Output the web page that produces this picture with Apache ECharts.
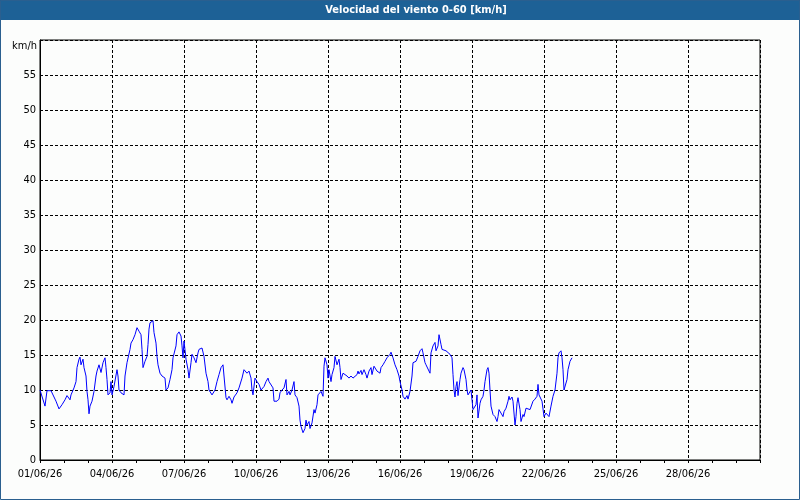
<!DOCTYPE html>
<html>
<head>
<meta charset="utf-8">
<script src="https://cdn.jsdelivr.net/npm/echarts@6/dist/echarts.min.js"></script>
<style>
  html, body { margin: 0; padding: 0; background: #fcfdfc; }
  #chart { width: 800px; height: 500px; }
</style>
</head>
<body>
<div id="chart"></div>
<script>
// hora desde 01/06/26 00:00 (lecturas)
const hours = [0,5,7,11,15,16,19,22,25,27,30,31,34,36,37,39,40,41,43,44,46,47,48,49,50,52,54,56,57,59,61,63,65,66,67,68,70,71,72,74,77,78,79,81,84,85,87,90,91,93,95,97,99,101,102,103,105,107,108,109,110,113,114,116,117,118,120,122,123,125,126,128,130,132,133,136,137,139,141,142,143,144,145,146,148,149,151,152,154,156,158,159,161,162,164,166,168,169,172,174,175,177,179,181,183,184,186,187,189,191,192,194,197,199,202,204,207,209,211,212,213,215,217,219,221,224,226,228,229,231,233,234,237,239,240,242,244,246,247,249,250,252,254,255,257,259,260,261,263,265,266,267,269,270,272,274,275,277,278,280,281,283,284,285,287,288,289,291,292,294,295,297,299,300,301,303,305,307,309,311,313,315,317,318,319,321,322,324,326,327,329,331,332,334,336,337,340,341,343,345,347,350,351,353,355,357,359,360,362,363,365,367,368,370,372,373,376,378,380,382,383,385,386,388,390,391,393,395,396,398,399,401,402,404,406,408,410,412,413,414,415,416,417,418,420,421,423,424,426,427,428,429,431,433,434,436,437,438,440,441,443,444,445,447,448,449,450,451,453,455,456,457,458,459,461,463,464,466,468,469,470,472,473,475,476,477,478,480,481,483,484,486,488,490,492,493,495,497,498,499,501,502,503,504,506,508,509,511,513,514,515,517,518,519,521,522,523,524,526,527,528,530,532];
// velocidad del viento [km/h]
const speeds = [10.0,7.7,9.9,9.9,8.7,8.4,7.3,7.9,8.6,9.2,8.6,9.3,10.3,11.2,13.2,14.4,14.7,13.6,14.4,13.2,12.0,9.8,8.6,6.6,7.7,8.4,9.8,12.0,12.7,13.6,12.5,13.9,14.6,13.2,11.5,9.3,9.6,11.2,9.3,10.5,12.9,12.0,10.0,9.6,9.3,12.0,13.9,15.8,16.7,17.2,17.9,18.9,18.4,17.9,15.8,13.2,14.1,14.8,16.5,18.7,19.6,19.9,18.2,16.7,14.8,13.6,12.4,12.0,12.2,11.7,10.0,10.3,11.5,12.9,14.6,16.3,17.9,18.3,17.7,16.3,14.6,17.0,17.2,14.4,12.9,11.7,13.9,15.1,14.6,13.9,15.3,15.8,15.6,16.0,14.8,12.4,11.2,10.0,9.3,9.1,10.0,11.2,12.2,13.2,13.6,12.0,8.9,8.6,9.1,8.6,8.1,9.0,9.6,10.3,11.7,12.9,12.4,12.7,11.7,10.0,9.3,11.7,11.2,10.8,10.0,10.5,11.2,11.7,11.2,11.0,10.3,8.4,8.4,8.7,9.6,10.0,10.3,11.5,9.3,9.8,9.3,10.0,11.2,9.3,8.9,7.7,5.7,4.8,3.9,4.5,5.7,5.0,5.5,4.5,5.3,7.2,6.7,7.9,9.3,9.3,9.8,9.1,13.4,14.6,13.6,11.7,12.9,11.2,12.2,13.2,14.8,13.6,14.4,13.2,11.5,12.4,12.2,12.0,11.7,12.0,11.7,11.7,12.2,12.7,12.3,12.8,12.2,12.9,12.2,11.7,12.7,13.2,12.2,13.4,13.2,12.7,12.4,13.2,13.6,14.1,14.6,15.1,15.4,14.6,13.6,12.9,12.0,11.2,10.0,9.1,8.7,9.2,8.7,9.8,12.0,13.9,14.1,14.8,15.6,15.9,15.3,13.9,13.6,13.6,12.4,15.3,16.3,16.8,15.6,16.3,17.9,16.5,15.8,15.8,15.6,15.7,15.1,14.6,12.2,10.0,9.0,10.5,11.2,9.2,11.5,12.4,13.2,12.9,11.5,10.0,9.3,9.1,10.0,7.2,7.2,7.9,9.3,6.0,8.1,8.6,9.1,10.0,11.2,12.9,13.2,12.4,10.0,7.7,6.5,6.2,6.0,5.5,6.2,7.2,7.4,6.2,6.9,7.4,8.4,9.1,8.6,9.0,8.4,5.0,6.2,8.1,8.9,7.2,5.5,6.5,6.2,7.4,7.2,7.2,7.4,8.4,8.7,9.1,10.8,9.3,9.1,8.4,8.6,6.2,6.7,6.8,6.2,7.7,9.1,9.3,10.0,12.4,14.6,15.3,15.6,14.6,12.9,10.0,9.8,11.5,12.9,14.1,14.6];
// etiquetas del eje x, cada 3 días
const dateLabels = ['01/06/26','04/06/26','07/06/26','10/06/26','13/06/26','16/06/26','19/06/26','22/06/26','25/06/26','28/06/26'];
const yLabels = ['0','5','10','15','20','25','30','35','40','45','50','55'];

const font = "'DejaVu Sans Condensed', 'DejaVu Sans', sans-serif";
const dashed = { color: '#000', width: 1, type: [3, 2] };

const option = {
  animation: false,
  backgroundColor: '#fcfdfc',
  graphic: [
    { type: 'rect', shape: { x: 0, y: 0, width: 800, height: 20 }, style: { fill: '#1d6196' }, z: 10 },
    { type: 'rect', shape: { x: 0.5, y: 0.5, width: 799, height: 499 }, style: { fill: 'none', stroke: '#2a5f8f', lineWidth: 1 }, z: 10 },
    { type: 'text', x: 416, y: 10, z: 11, style: { text: 'Velocidad del viento 0-60 [km/h]', fill: '#fff', font: 'bold 11px ' + font, align: 'center', verticalAlign: 'middle' } },
    { type: 'text', x: 37, y: 46, z: 11, style: { text: 'km/h', fill: '#000', font: '11px ' + font, align: 'right', verticalAlign: 'middle' } }
  ],
  grid: { left: 40, right: 40, top: 40, bottom: 40, show: true, borderColor: '#000', borderWidth: 1, backgroundColor: 'transparent' },
  xAxis: {
    type: 'value', min: 0, max: 30, interval: 3,
    axisLine: { lineStyle: { color: '#000', width: 1 } },
    axisTick: { show: true, length: 3, lineStyle: { color: '#000' } },
    minorTick: { show: true, splitNumber: 3, length: 3, lineStyle: { color: '#000' } },
    splitLine: { show: true, lineStyle: dashed },
    axisLabel: {
      color: '#000', fontSize: 11, fontFamily: font, margin: 9, showMaxLabel: false,
      formatter: v => dateLabels[Math.round(v / 3)] || ''
    }
  },
  yAxis: {
    type: 'value', min: 0, max: 60, interval: 5,
    axisLine: { show: true, lineStyle: { color: '#000', width: 1 } },
    axisTick: { show: false },
    splitLine: { show: true, lineStyle: dashed },
    axisLabel: {
      color: '#000', fontSize: 11, fontFamily: font, margin: 4, showMaxLabel: false,
      formatter: v => yLabels[Math.round(v / 5)] || ''
    }
  },
  series: [{
    type: 'line',
    showSymbol: false,
    lineStyle: { color: '#0000ff', width: 1 },
    data: hours.map((h, i) => [h / 24, speeds[i]])
  }]
};

const chart = echarts.init(document.getElementById('chart'));
chart.setOption(option);
</script>
</body>
</html>
